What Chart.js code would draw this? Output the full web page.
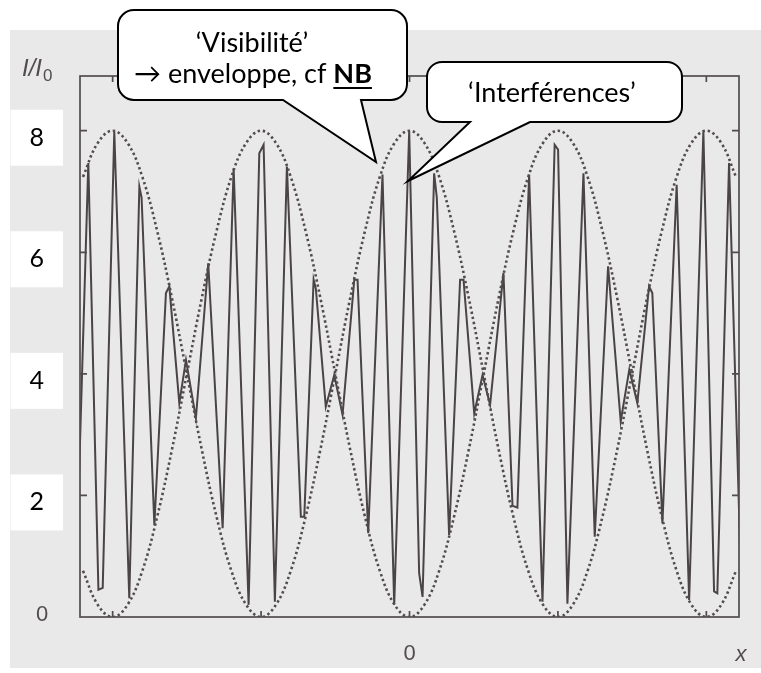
<!DOCTYPE html>
<html>
<head>
<meta charset="utf-8">
<script src="https://cdn.jsdelivr.net/npm/chart.js@4.4.0/dist/chart.umd.min.js"></script>
<style>
  html, body { margin: 0; padding: 0; background: #fff; }
  #wrap { width: 761px; height: 673px; }
</style>
</head>
<body>
<div id="wrap"><canvas id="c" width="761" height="673"></canvas></div>
<script>
const sigX = [-2.25, -2.164, -2.096, -2.067, -1.989, -1.888, -1.820, -1.805, -1.719, -1.641, -1.618, -1.551, -1.506, -1.439, -1.356, -1.259, -1.185, -1.084, -1.012, -0.983, -0.907, -0.826, -0.732, -0.709, -0.646, -0.631, -0.564, -0.507, -0.451, -0.372, -0.350, -0.278, -0.182, -0.103, -0.002, 0.065, 0.088, 0.166, 0.184, 0.267, 0.341, 0.364, 0.436, 0.492, 0.543, 0.633, 0.694, 0.727, 0.806, 0.896, 0.978, 1.001, 1.064, 1.172, 1.248, 1.338, 1.423, 1.481, 1.535, 1.614, 1.636, 1.704, 1.800, 1.884, 1.980, 2.052, 2.074, 2.153, 2.236];
const sigY = [0.4, 7.47, 0.45, 0.48, 7.99, 0.31, 7.08, 6.9, 1.51, 5.33, 5.44, 3.52, 4.23, 3.27, 5.82, 1.46, 7.38, 0.2, 7.63, 7.77, 0.25, 7.41, 1.65, 1.65, 5.55, 5.4, 3.46, 3.98, 3.33, 5.55, 5.55, 1.38, 7.28, 0.2, 8.0, 0.72, 0.33, 7.3, 6.9, 1.35, 5.55, 5.55, 3.35, 3.98, 3.49, 5.66, 1.83, 1.8, 7.28, 0.25, 7.77, 7.69, 0.22, 7.3, 1.32, 5.77, 3.22, 4.07, 3.52, 5.44, 5.33, 1.54, 7.11, 0.28, 7.99, 0.42, 0.39, 7.47, 0.4];

// dotted envelope (visibility)
const envX = [-2.2, -2.1, -2.0, -1.9, -1.8, -1.7, -1.6, -1.5, -1.4, -1.3, -1.2, -1.1, -1.0, -0.9, -0.8, -0.7, -0.6, -0.5, -0.4, -0.3, -0.2, -0.1, 0, 0.1, 0.2, 0.3, 0.4, 0.5, 0.6, 0.7, 0.8, 0.9, 1.0, 1.1, 1.2, 1.3, 1.4, 1.5, 1.6, 1.7, 1.8, 1.9, 2.0, 2.1, 2.2];
const envUpper = [7.24, 7.8, 8, 7.8, 7.24, 6.35, 5.24, 4, 2.76, 1.65, 0.76, 0.2, 0, 0.2, 0.76, 1.65, 2.76, 4, 5.24, 6.35, 7.24, 7.8, 8, 7.8, 7.24, 6.35, 5.24, 4, 2.76, 1.65, 0.76, 0.2, 0, 0.2, 0.76, 1.65, 2.76, 4, 5.24, 6.35, 7.24, 7.8, 8, 7.8, 7.24];
const envLower = [0.76, 0.2, 0, 0.2, 0.76, 1.65, 2.76, 4, 5.24, 6.35, 7.24, 7.8, 8, 7.8, 7.24, 6.35, 5.24, 4, 2.76, 1.65, 0.76, 0.2, 0, 0.2, 0.76, 1.65, 2.76, 4, 5.24, 6.35, 7.24, 7.8, 8, 7.8, 7.24, 6.35, 5.24, 4, 2.76, 1.65, 0.76, 0.2, 0, 0.2, 0.76];

const xTickLabels = { 0: '0' };
const yLabel = 'I/I';
const xLabel = 'x';

const INK = '#524c4e';

const pts = (xs, ys) => xs.map((x, i) => ({ x: x, y: ys[i] }));

const decor = {
  id: 'decor',
  beforeDraw(chart) {
    const ctx = chart.ctx;
    ctx.save();
    ctx.fillStyle = '#ffffff';
    ctx.fillRect(0, 0, chart.width, chart.height);
    ctx.fillStyle = '#e9e9e9';
    ctx.fillRect(10, 30, chart.width - 10, 638);
    ctx.restore();
  },
  afterDatasetsDraw(chart) {
    const ctx = chart.ctx, a = chart.chartArea;
    const xs = chart.scales.x, ys = chart.scales.y;
    ctx.save();
    ctx.strokeStyle = INK;
    ctx.lineWidth = 1.7;
    ctx.strokeRect(a.left, a.top, a.right - a.left, a.bottom - a.top);
    ctx.beginPath();
    xs.ticks.forEach(t => {
      const px = xs.getPixelForValue(t.value);
      ctx.moveTo(px, a.bottom); ctx.lineTo(px, a.bottom - 6);
      ctx.moveTo(px, a.top); ctx.lineTo(px, a.top + 6);
    });
    ys.ticks.forEach(t => {
      const py = ys.getPixelForValue(t.value);
      ctx.moveTo(a.left, py); ctx.lineTo(a.left + 7, py);
      ctx.moveTo(a.right, py); ctx.lineTo(a.right - 7, py);
    });
    ctx.stroke();
    ctx.restore();
  },
  afterDraw(chart) {
    const ctx = chart.ctx;
    ctx.save();
    // axis texts from the scan
    ctx.fillStyle = INK;
    ctx.textBaseline = 'alphabetic';
    ctx.font = 'italic 24px "Liberation Sans"';
    ctx.textAlign = 'left';
    ctx.fillText(yLabel, 22, 76);
    const w = ctx.measureText(yLabel).width;
    ctx.font = '17px "Liberation Sans"';
    ctx.fillText('0', 22 + w + 1, 81);
    ctx.font = '22px "Liberation Sans"';
    ctx.textAlign = 'center';
    ctx.fillText('0', 42, 621);
    ctx.font = 'italic 22px "Liberation Sans"';
    ctx.fillText(xLabel, 741, 661);

    // callouts
    bubble(ctx, 118, 10, 407, 100, 16, 283, 361, 376, 162);
    bubble(ctx, 427, 62, 682, 122, 15, 470, 530, 408, 181);

    ctx.fillStyle = '#000';
    ctx.textAlign = 'center';
    ctx.font = '27px Lato';
    ctx.fillText('\u2018Visibilit\u00e9\u2019', 252, 52);
    const part1 = '\u2192 enveloppe, cf ';
    const w1 = ctx.measureText(part1).width;
    ctx.font = 'bold 27px Lato';
    const w2 = ctx.measureText('NB').width;
    const x0 = 253 - (w1 + w2) / 2;
    ctx.textAlign = 'left';
    ctx.font = '27px Lato';
    ctx.fillText(part1, x0, 83);
    ctx.font = 'bold 27px Lato';
    ctx.fillText('NB', x0 + w1, 83);
    ctx.fillRect(x0 + w1, 87, w2, 2);
    ctx.textAlign = 'center';
    ctx.font = '27px Lato';
    ctx.fillText('\u2018Interf\u00e9rences\u2019', 552, 102);
    ctx.restore();
  }
};

function bubble(ctx, x0, y0, x1, y1, r, b1, b2, tx, ty) {
  ctx.beginPath();
  ctx.moveTo(x0 + r, y0);
  ctx.lineTo(x1 - r, y0);
  ctx.arcTo(x1, y0, x1, y0 + r, r);
  ctx.lineTo(x1, y1 - r);
  ctx.arcTo(x1, y1, x1 - r, y1, r);
  ctx.lineTo(b2, y1);
  ctx.lineTo(tx, ty);
  ctx.lineTo(b1, y1);
  ctx.lineTo(x0 + r, y1);
  ctx.arcTo(x0, y1, x0, y1 - r, r);
  ctx.lineTo(x0, y0 + r);
  ctx.arcTo(x0, y0, x0 + r, y0, r);
  ctx.closePath();
  ctx.fillStyle = '#fff';
  ctx.fill();
  ctx.strokeStyle = '#000';
  ctx.lineWidth = 2;
  ctx.lineJoin = 'miter';
  ctx.stroke();
}

new Chart(document.getElementById('c'), {
  type: 'line',
  data: {
    datasets: [
      {
        data: pts(envX, envUpper),
        borderColor: INK,
        borderWidth: 2.6,
        borderDash: [2.4, 2.8],
        pointRadius: 0,
        tension: 0.4,
        fill: false
      },
      {
        data: pts(envX, envLower),
        borderColor: INK,
        borderWidth: 2.6,
        borderDash: [2.4, 2.8],
        pointRadius: 0,
        tension: 0.4,
        fill: false
      },
      {
        data: pts(sigX, sigY),
        borderColor: '#4a4446',
        borderWidth: 2,
        pointRadius: 0,
        tension: 0,
        fill: false
      }
    ]
  },
  options: {
    responsive: false,
    animation: false,
    devicePixelRatio: 1,
    layout: { padding: { left: 0, right: 22, top: 76, bottom: 0 } },
    plugins: { legend: { display: false }, tooltip: { enabled: false } },
    scales: {
      x: {
        type: 'linear',
        min: -2.22,
        max: 2.22,
        grid: { display: false, drawTicks: false },
        border: { display: false },
        ticks: {
          stepSize: 1,
          includeBounds: false,
          autoSkip: false,
          maxRotation: 0,
          padding: 24,
          color: INK,
          font: { family: 'Liberation Sans', size: 22 },
          callback: v => xTickLabels[v] || ''
        },
        afterFit: s => { s.height = 56; }
      },
      y: {
        min: 0,
        max: 8.9,
        grid: { display: false, drawTicks: false },
        border: { display: false },
        afterBuildTicks: s => { s.ticks = s.ticks.filter(t => t.value !== 0); },
        ticks: {
          stepSize: 2,
          includeBounds: false,
          padding: 36,
          labelOffset: 7,
          color: '#000',
          font: { family: 'Lato', size: 25 },
          showLabelBackdrop: true,
          backdropColor: '#fff',
          backdropPadding: { x: 19, y: 13 }
        },
        afterFit: s => { s.width = 80; }
      }
    }
  },
  plugins: [decor]
});
</script>
</body>
</html>
